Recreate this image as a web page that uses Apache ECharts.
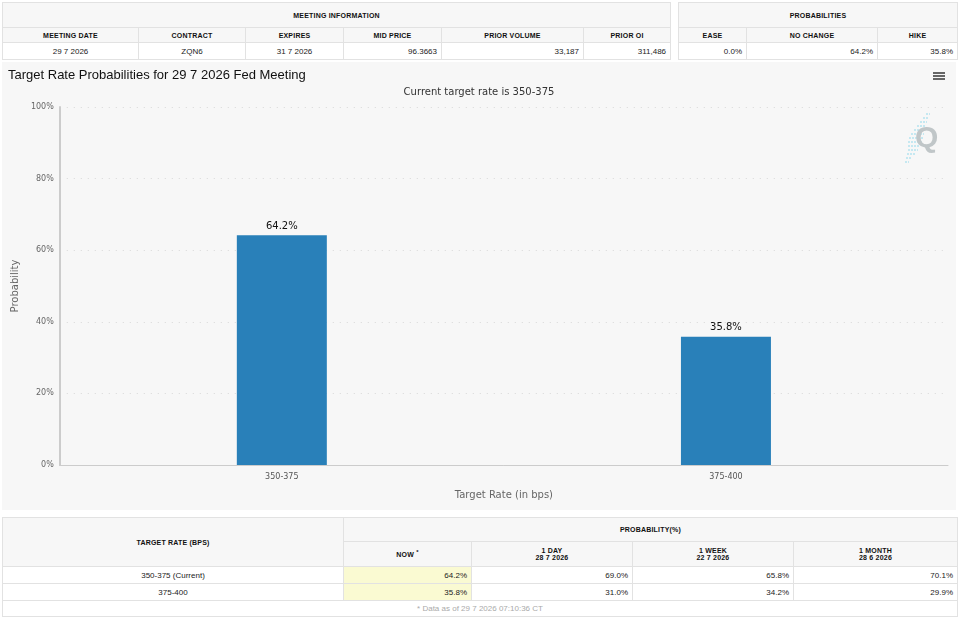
<!DOCTYPE html>
<html>
<head>
<meta charset="utf-8">
<script src="https://cdn.jsdelivr.net/npm/echarts@6/dist/echarts.min.js"></script>
<style>
body { margin: 0; width: 958px; height: 618px; background: #fff; position: relative; overflow: hidden;
	font-family: "Liberation Sans", Arial, sans-serif; }
table { position: absolute; border-collapse: collapse; table-layout: fixed; font-size: 8px; color: #222; }
td, th { border: 1px solid #e2e2e2; padding: 0 4px; overflow: hidden; white-space: nowrap; }
th { background: #f7f7f7; font-weight: bold; font-size: 7px; color: #111; text-align: center; letter-spacing: 0.2px; }
td { text-align: right; background: #fff; }
td.c { text-align: center; }
td.now { background: #fafad2; }
td.foot { text-align: center; color: #aaa; }
#chart { position: absolute; left: 2px; top: 62px; width: 954px; height: 448px; }
</style>
</head>
<body>
<table style="left:2px;top:2px;width:668px;">
	<colgroup><col style="width:136px"><col style="width:107px"><col style="width:98px"><col style="width:98px"><col style="width:142px"><col style="width:87px"></colgroup>
	<tr style="height:25px"><th colspan="6">MEETING INFORMATION</th></tr>
	<tr style="height:15px"><th>MEETING DATE</th><th>CONTRACT</th><th>EXPIRES</th><th>MID PRICE</th><th>PRIOR VOLUME</th><th>PRIOR OI</th></tr>
	<tr style="height:17px"><td class="c">29 7 2026</td><td class="c">ZQN6</td><td class="c">31 7 2026</td><td>96.3663</td><td>33,187</td><td>311,486</td></tr>
</table>
<table style="left:678px;top:2px;width:279px;">
	<colgroup><col style="width:68px"><col style="width:131px"><col style="width:80px"></colgroup>
	<tr style="height:25px"><th colspan="3">PROBABILITIES</th></tr>
	<tr style="height:15px"><th>EASE</th><th>NO CHANGE</th><th>HIKE</th></tr>
	<tr style="height:17px"><td>0.0%</td><td>64.2%</td><td>35.8%</td></tr>
</table>
<div id="chart"></div>
<table id="hist" style="left:2px;top:517px;width:955px;">
	<colgroup><col style="width:341px"><col style="width:128px"><col style="width:161px"><col style="width:161px"><col style="width:164px"></colgroup>
</table>
<script>
// chart data
var rateBuckets = ['350-375', '375-400'];
var probNow = [64.2, 35.8];
var yTicks = [0, 20, 40, 60, 80, 100];

// history table data
var histLabels = ['350-375 (Current)', '375-400'];
var histHeads = ['NOW <sup>*</sup>', '1 DAY<br>28 7 2026', '1 WEEK<br>22 7 2026', '1 MONTH<br>28 6 2026'];
var prob1Day = [69.0, 31.0];
var prob1Week = [65.8, 34.2];
var prob1Month = [70.1, 29.9];

function buildHistTable() {
	var t = document.getElementById('hist');
	var html = '<tr style="height:24px"><th rowspan="2">TARGET RATE (BPS)</th><th colspan="4">PROBABILITY(%)</th></tr>';
	html += '<tr style="height:25px">';
	for (var i = 0; i < histHeads.length; i++) html += '<th>' + histHeads[i] + '</th>';
	html += '</tr>';
	for (var r = 0; r < histLabels.length; r++) {
		html += '<tr style="height:17px"><td class="c">' + histLabels[r] + '</td>'
			+ '<td class="now">' + probNow[r].toFixed(1) + '%</td>'
			+ '<td>' + prob1Day[r].toFixed(1) + '%</td>'
			+ '<td>' + prob1Week[r].toFixed(1) + '%</td>'
			+ '<td>' + prob1Month[r].toFixed(1) + '%</td></tr>';
	}
	html += '<tr style="height:16px"><td class="foot" colspan="5">* Data as of 29 7 2026 07:10:36 CT</td></tr>';
	t.innerHTML += html;
}
buildHistTable();

// little cyan streaks of the watermark, left of the Q
function logoStreaks() {
	var out = [];
	var rows = [[926, 4], [923, 5], [920, 7], [917, 9], [914, 11], [911, 13], [909, 14], [908, 14], [908, 12], [908, 10], [907, 8], [906, 6], [905, 4]];
	for (var i = 0; i < rows.length; i++) {
		out.push({
			type : 'line',
			shape : { x1 : rows[i][0] - 2, y1 : 52 + i * 4, x2 : rows[i][0] - 2 + rows[i][1], y2 : 52 + i * 4 },
			style : { stroke : '#b5e3f0', lineWidth : 1.5, lineDash : [2, 1] },
			silent : true
		});
	}
	return out;
}

/**
 * Draw target rate bar chart
 */
function drawRateChart(id) {
	var rateChart = echarts.init(document.getElementById(id));
	var labelFont = 'DejaVu Sans, Verdana, sans-serif';
	var option = {
		backgroundColor : '#f7f7f7',
		animation : false,
		title : [ {
			text : 'Target Rate Probabilities for 29 7 2026 Fed Meeting',
			left : 6,
			top : 7,
			padding : 0,
			textStyle : { fontFamily : 'Liberation Sans, Arial', fontSize : 13, fontWeight : 'normal', color : '#111' }
		}, {
			text : 'Current target rate is 350-375',
			left : 'center',
			top : 25,
			padding : 0,
			textStyle : { fontFamily : labelFont, fontSize : 10, fontWeight : 'normal', color : '#333' }
		} ],
		grid : { left : 57, right : 8, top : 45, bottom : 45 },
		xAxis : [ {
			type : 'category',
			data : rateBuckets,
			name : 'Target Rate (in bps)',
			nameLocation : 'middle',
			nameGap : 25,
			nameTextStyle : { fontFamily : labelFont, fontSize : 10, color : '#666' },
			axisLine : { lineStyle : { color : '#ccc', width : 1 } },
			axisTick : { alignWithLabel : true, length : 5, lineStyle : { color : '#ccc' } },
			axisLabel : { fontFamily : labelFont, fontSize : 8, color : '#555', margin : 8 }
		} ],
		yAxis : [ {
			type : 'value',
			min : yTicks[0],
			max : yTicks[yTicks.length - 1],
			interval : 20,
			name : 'Probability',
			nameLocation : 'middle',
			nameGap : 38,
			nameTextStyle : { fontFamily : labelFont, fontSize : 10, color : '#666' },
			axisLine : { show : true, lineStyle : { color : '#ccc', width : 2 } },
			axisTick : { show : false },
			axisLabel : { fontFamily : labelFont, fontSize : 8, color : '#666', margin : 6, formatter : '{value}%' },
			splitLine : { lineStyle : { color : '#d8d8d8', type : [1, 6], width : 1 } }
		} ],
		series : [ {
			name : 'Probability',
			type : 'bar',
			data : probNow,
			barWidth : 90,
			itemStyle : { color : '#2980b9' },
			label : {
				show : true,
				position : 'top',
				distance : 4,
				fontFamily : labelFont,
				fontSize : 10,
				color : '#111',
				formatter : '{c}%'
			}
		} ],
		graphic : [
			// menu icon
			{ type : 'rect', right : 11, top : 10, shape : { width : 12, height : 2 }, style : { fill : '#666' } },
			{ type : 'rect', right : 11, top : 13, shape : { width : 12, height : 2 }, style : { fill : '#666' } },
			{ type : 'rect', right : 11, top : 16, shape : { width : 12, height : 2 }, style : { fill : '#666' } },
			// watermark
			{ type : 'group', children : logoStreaks() },
			{ type : 'text', x : 913, y : 62, style : { text : 'Q', fill : '#c0c6c8', font : 'bold 30px Liberation Sans' } }
		]
	};
	rateChart.setOption(option);
}
drawRateChart('chart');
</script>
</body>
</html>
